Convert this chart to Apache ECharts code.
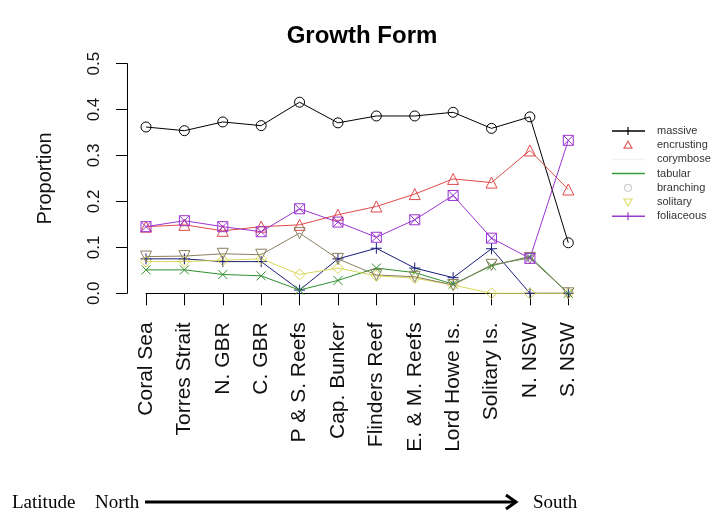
<!DOCTYPE html>
<html>
<head>
<meta charset="utf-8">
<script src="https://cdn.jsdelivr.net/npm/echarts@6/dist/echarts.min.js"></script>
<style>
  html, body { margin: 0; padding: 0; background: #fff; }
  #root { width: 728px; height: 516px; }
</style>
</head>
<body>
<div id="root"></div>
<script>
// sites, north to south
let sites = ['Coral Sea', 'Torres Strait', 'N. GBR', 'C. GBR', 'P & S. Reefs', 'Cap. Bunker',
  'Flinders Reef', 'E. & M. Reefs', 'Lord Howe Is.', 'Solitary Is.', 'N. NSW', 'S. NSW'];

let massive    = [0.362, 0.354, 0.373, 0.365, 0.416, 0.371, 0.386, 0.386, 0.394, 0.359, 0.384, 0.110];
let encrusting = [0.145, 0.149, 0.136, 0.145, 0.149, 0.171, 0.189, 0.216, 0.249, 0.241, 0.311, 0.226];
let corymbose  = [0.075, 0.075, 0.069, 0.069, 0.007, 0.075, 0.098, 0.055, 0.034, 0.097, 0.000, 0.000];
let tabular    = [0.051, 0.051, 0.041, 0.038, 0.007, 0.028, 0.055, 0.045, 0.020, 0.060, 0.080, 0.000];
let solitary   = [0.069, 0.069, 0.072, 0.075, 0.041, 0.055, 0.038, 0.033, 0.018, 0.000, 0.000, 0.000];
let branching  = [0.080, 0.081, 0.086, 0.084, 0.131, 0.075, 0.040, 0.036, 0.018, 0.062, 0.077, 0.000];
let foliaceous = [0.145, 0.158, 0.145, 0.134, 0.184, 0.155, 0.122, 0.160, 0.213, 0.120, 0.076, 0.333];

let yTicks = [0, 0.1, 0.2, 0.3, 0.4, 0.5];

let legendNames = ['massive', 'encrusting', 'corymbose', 'tabular', 'branching', 'solitary', 'foliaceous'];

// R-like point shapes
const sym = {
  circle: 'path://M0,5A5,5,0,1,0,10,5A5,5,0,1,0,0,5Z',
  triangle: 'path://M5,0L10,8.66L0,8.66Z',
  plus: 'path://M5,0V10M0,5H10',
  cross: 'path://M0,0L10,10M10,0L0,10',
  diamond: 'path://M5,0L10,5L5,10L0,5Z',
  down: 'path://M0,0H10L5,8.66Z',
  boxx: 'path://M0,0H10V10H0ZM0,0L10,10M10,0L0,10'
};

function mk(name, data, color, symbol, size) {
  return {
    name: name,
    type: 'line',
    data: data,
    clip: false,
    symbol: symbol,
    symbolSize: size,
    showAllSymbol: true,
    lineStyle: { color: color, width: 1 },
    itemStyle: { color: 'rgba(0,0,0,0)', borderColor: color, borderWidth: 1 },
    emphasis: { disabled: true },
    animation: false
  };
}

let root = document.getElementById('root');
let myChart = echarts.init(root, null, { renderer: 'canvas' });

// legend drawn by hand, as in the R original
let legendGraphics = [];
let lx = 612, ly = 131, lstep = 14.2;
let legendLook = [
  { color: '#000', line: true, mark: 'plus' },
  { color: '#e06060', line: false, mark: 'triangle' },
  { color: '#f2f2f2', line: true, mark: null },
  { color: '#3a9a3a', line: true, mark: null },
  { color: '#cfcfcf', line: false, mark: 'circle' },
  { color: '#dede70', line: false, mark: 'down' },
  { color: '#9a3ccc', line: true, mark: 'plus' }
];
legendNames.forEach(function (n, i) {
  let y = ly + i * lstep;
  let lk = legendLook[i];
  let cx = lx + 16;
  let st = { fill: 'none', stroke: lk.color, lineWidth: 1.2 };
  if (lk.line) {
    legendGraphics.push({ type: 'line', shape: { x1: lx, y1: y, x2: lx + 33, y2: y },
      style: { stroke: lk.color, lineWidth: 1.5 } });
  }
  if (lk.mark === 'plus') {
    legendGraphics.push({ type: 'line', shape: { x1: cx, y1: y - 4, x2: cx, y2: y + 4 }, style: st });
  } else if (lk.mark === 'triangle') {
    legendGraphics.push({ type: 'polygon', shape: { points: [[cx, y - 4], [cx + 4, y + 3], [cx - 4, y + 3]] }, style: st });
  } else if (lk.mark === 'circle') {
    legendGraphics.push({ type: 'circle', shape: { cx: cx, cy: y, r: 3.5 }, style: st });
  } else if (lk.mark === 'down') {
    legendGraphics.push({ type: 'polygon', shape: { points: [[cx - 4, y - 3], [cx + 4, y - 3], [cx, y + 4]] }, style: st });
  }
  legendGraphics.push({ type: 'text', x: lx + 45, y: y, style: { text: n, fill: '#333', font: '11px "Liberation Sans", Arial', verticalAlign: 'middle' } });
});

let option = {
  backgroundColor: '#fff',
  animation: false,
  title: {
    text: 'Growth Form',
    left: 357,
    top: 19,
    textAlign: 'center',
    textStyle: { color: '#000', fontSize: 24, fontWeight: 'bold', fontFamily: '"Liberation Sans", Arial' }
  },
  grid: { left: 146, right: 159.7, top: 63.6, bottom: 222.7, containLabel: false, outerBoundsMode: 'none' },
  xAxis: {
    type: 'category',
    data: sites,
    boundaryGap: false,
    offset: 9,
    axisLine: { show: true, lineStyle: { color: '#000', width: 1 } },
    axisTick: { show: true, length: 12, lineStyle: { color: '#000' } },
    axisLabel: { rotate: 90, margin: 20, interval: 0, color: '#111', fontSize: 21, fontFamily: '"Liberation Sans", Arial' },
    splitLine: { show: false }
  },
  yAxis: {
    type: 'value',
    min: yTicks[0],
    max: yTicks[yTicks.length - 1],
    interval: 0.1,
    offset: 19,
    name: 'Proportion',
    nameLocation: 'middle',
    nameRotate: 90,
    nameGap: 72,
    nameTextStyle: { color: '#111', fontSize: 20, fontFamily: '"Liberation Sans", Arial' },
    axisLine: { show: true, lineStyle: { color: '#000', width: 1 } },
    axisTick: { show: true, length: 11, lineStyle: { color: '#000' } },
    axisLabel: { rotate: 90, margin: 24, color: '#111', fontSize: 17, fontFamily: '"Liberation Sans", Arial',
      formatter: function (v) { return v.toFixed(1); } },
    splitLine: { show: false }
  },
  series: [
    mk('massive', massive, '#000000', sym.circle, 10),
    mk('encrusting', encrusting, '#e04a4a', sym.triangle, 11),
    mk('corymbose', corymbose, '#1c1c7a', sym.plus, 11),
    mk('tabular', tabular, '#2f8f2f', sym.cross, 9),
    mk('solitary', solitary, '#d8d85a', sym.diamond, 11),
    mk('branching', branching, '#8a7f60', sym.down, 11),
    mk('foliaceous', foliaceous, '#9b35d0', sym.boxx, 10)
  ],
  graphic: legendGraphics.concat([
    { type: 'text', x: 12, y: 503, style: { text: 'Latitude', fill: '#000', font: '19px "Liberation Serif", serif', verticalAlign: 'middle' } },
    { type: 'text', x: 95, y: 503, style: { text: 'North', fill: '#000', font: '19px "Liberation Serif", serif', verticalAlign: 'middle' } },
    { type: 'line', shape: { x1: 145, y1: 502, x2: 514, y2: 502 }, style: { stroke: '#000', lineWidth: 3 } },
    { type: 'polyline', shape: { points: [[506, 495], [516, 502], [506, 509]] }, style: { stroke: '#000', lineWidth: 3, fill: 'none' } },
    { type: 'text', x: 533, y: 503, style: { text: 'South', fill: '#000', font: '19px "Liberation Serif", serif', verticalAlign: 'middle' } }
  ])
};
myChart.setOption(option);
</script>
</body>
</html>
